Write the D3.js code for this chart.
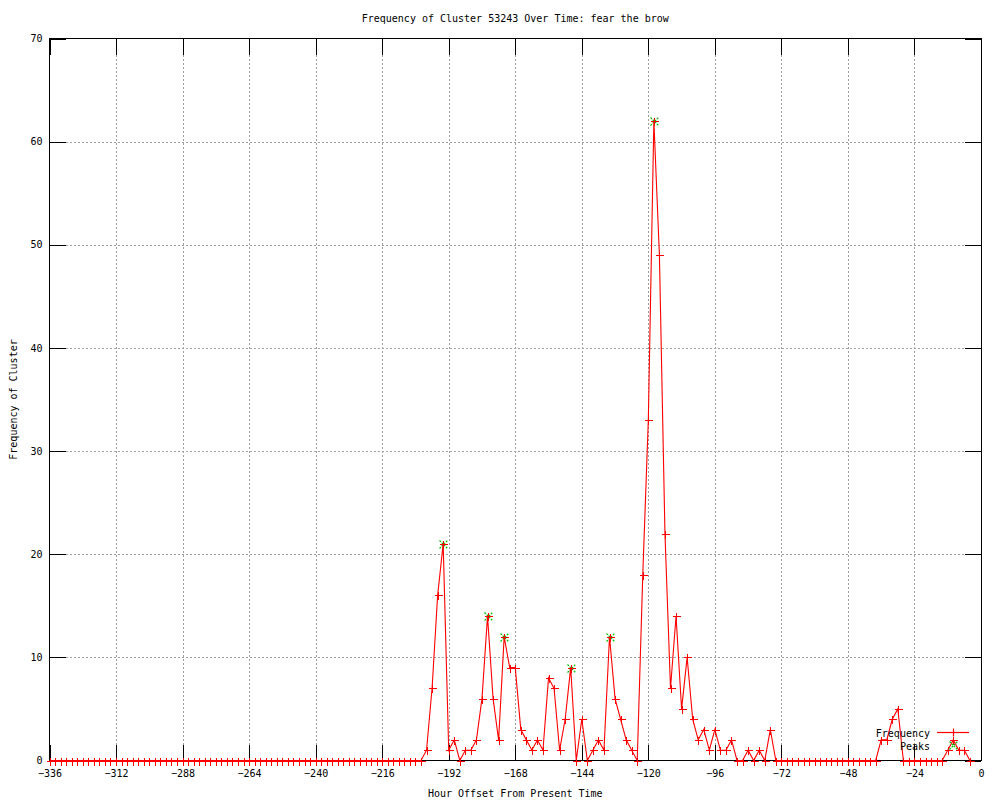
<!DOCTYPE html>
<html>
<head>
<meta charset="utf-8">
<script src="https://cdn.jsdelivr.net/npm/d3@7"></script>
<style>
  body { margin: 0; background: #fff; }
  svg { display: block; }
  text { font-family: "DejaVu Sans Mono", monospace; font-size: 10px; fill: #000; }
</style>
</head>
<body>
<svg id="chart" width="1000" height="800"></svg>
<script>
// hours from -336 to -4, one value every 2 hours
const hours = d3.range(-336, -2, 2);
const frequency = [
  0, 0, 0, 0, 0, 0, 0, 0, 0, 0, 0, 0,   // -336 .. -314
  0, 0, 0, 0, 0, 0, 0, 0, 0, 0, 0, 0,   // -312 .. -290
  0, 0, 0, 0, 0, 0, 0, 0, 0, 0, 0, 0,   // -288 .. -266
  0, 0, 0, 0, 0, 0, 0, 0, 0, 0, 0, 0,   // -264 .. -242
  0, 0, 0, 0, 0, 0, 0, 0, 0, 0, 0, 0,   // -240 .. -218
  0, 0, 0, 0, 0, 0, 0, 0, 1, 7, 16, 21, // -216 .. -194
  1, 2, 0, 1, 1, 2, 6, 14, 6, 2, 12, 9, // -192 .. -170
  9, 3, 2, 1, 2, 1, 8, 7, 1, 4, 9, 0,   // -168 .. -146
  4, 0, 1, 2, 1, 12, 6, 4, 2, 1, 0, 18, // -144 .. -122
  33, 62, 49, 22, 7, 14, 5, 10, 4, 2, 3, 1, // -120 .. -98
  3, 1, 1, 2, 0, 0, 1, 0, 1, 0, 3, 0,   // -96 .. -74
  0, 0, 0, 0, 0, 0, 0, 0, 0, 0, 0, 0,   // -72 .. -50
  0, 0, 0, 0, 0, 0, 2, 2, 4, 5, 0, 0,   // -48 .. -26
  0, 0, 0, 0, 0, 0, 1, 2, 1, 1, 0       // -24 .. -4
];
const peakHours = [-194, -178, -172, -148, -134, -118];
const peakValues = [21, 14, 12, 9, 12, 62];

const xTicks = [-336, -312, -288, -264, -240, -216, -192, -168, -144, -120, -96, -72, -48, -24, 0];
const yTicks = [0, 10, 20, 30, 40, 50, 60, 70];

const title = "Frequency of Cluster 53243 Over Time: fear the brow";
const xLabel = "Hour Offset From Present Time";
const yLabel = "Frequency of Cluster";

const svg = d3.select("#chart");
const plotLeft = 49.5, plotRight = 981, plotTop = 38.5, plotBottom = 760.5;

const x = d3.scaleLinear().domain([-336, 0]).range([plotLeft, plotRight]);
const y = d3.scaleLinear().domain([0, 70]).range([plotBottom, plotTop]);

// dotted grid
const grid = svg.append("g")
  .attr("stroke", "#a0a0a0")
  .attr("stroke-dasharray", "2,2")
  .attr("shape-rendering", "crispEdges");
grid.selectAll("line.gx")
  .data(xTicks.slice(1, -1))
  .join("line")
  .attr("class", "gx")
  .attr("x1", d => Math.round(x(d)) + 0.5).attr("x2", d => Math.round(x(d)) + 0.5)
  .attr("y1", plotTop).attr("y2", plotBottom);
grid.selectAll("line.gy")
  .data(yTicks.slice(1, -1))
  .join("line")
  .attr("class", "gy")
  .attr("y1", d => Math.round(y(d)) + 0.5).attr("y2", d => Math.round(y(d)) + 0.5)
  .attr("x1", plotLeft).attr("x2", plotRight);

// axes with inward ticks (mirrored on top and right)
function styleAxis(g) {
  g.attr("font-family", null).attr("font-size", null);
  g.select(".domain").remove();
  g.selectAll("line").attr("stroke", "#000").attr("shape-rendering", "crispEdges");
}
svg.append("g")
  .attr("transform", `translate(0,${plotBottom})`)
  .call(d3.axisBottom(x).tickValues(xTicks).tickSize(-16).tickPadding(9).tickFormat(d3.format("d")))
  .call(styleAxis);
svg.append("g")
  .attr("transform", `translate(0,${plotTop})`)
  .call(d3.axisTop(x).tickValues(xTicks).tickSize(-16).tickFormat(""))
  .call(styleAxis);
svg.append("g")
  .attr("transform", `translate(${plotLeft},0)`)
  .call(d3.axisLeft(y).tickValues(yTicks).tickSize(-16).tickPadding(7))
  .call(styleAxis);
svg.append("g")
  .attr("transform", `translate(${plotRight},0)`)
  .call(d3.axisRight(y).tickValues(yTicks).tickSize(-16).tickFormat(""))
  .call(styleAxis);

// frame
svg.append("rect")
  .attr("x", plotLeft).attr("y", plotTop)
  .attr("width", plotRight - plotLeft).attr("height", plotBottom - plotTop)
  .attr("fill", "none").attr("stroke", "#000")
  .attr("shape-rendering", "crispEdges");

const plus = "M-4,0H4M0,-4V4";
const cross = "M-4,-4L4,4M-4,4L4,-4";

// peaks (green crosses, under the red markers)
svg.append("g")
  .selectAll("path")
  .data(peakHours.map((h, i) => [h, peakValues[i]]))
  .join("path")
  .attr("transform", d => `translate(${Math.round(x(d[0])) + 0.5},${Math.round(y(d[1])) + 0.5})`)
  .attr("d", cross)
  .attr("stroke", "#00c000")
  .attr("stroke-width", 1.2)
  .attr("stroke-dasharray", "2,1");

// frequency line + markers
const pts = hours.map((h, i) => [h, frequency[i]]);
const line = d3.line().x(d => x(d[0])).y(d => y(d[1]));
svg.append("path")
  .datum(pts)
  .attr("d", line)
  .attr("fill", "none")
  .attr("stroke", "#ff0000")
  .attr("stroke-width", 1.1);

svg.append("g")
  .selectAll("path")
  .data(pts)
  .join("path")
  .attr("transform", d => `translate(${Math.round(x(d[0])) + 0.5},${Math.round(y(d[1])) + 0.5})`)
  .attr("d", plus)
  .attr("stroke", "#ff0000")
  .attr("stroke-width", 1.2)
  .attr("shape-rendering", "crispEdges");

// legend
const legend = svg.append("g");
legend.append("text").attr("x", 930).attr("y", 733).attr("dy", "0.35em")
  .attr("text-anchor", "end").text("Frequency");
legend.append("line").attr("x1", 937).attr("x2", 969).attr("y1", 732.5).attr("y2", 732.5)
  .attr("stroke", "#ff0000").attr("stroke-width", 1.2);
legend.append("path").attr("transform", "translate(953.5,732.5)").attr("d", plus)
  .attr("stroke", "#ff0000").attr("stroke-width", 1.2);
legend.append("text").attr("x", 930).attr("y", 746.5).attr("dy", "0.35em")
  .attr("text-anchor", "end").text("Peaks");
legend.append("path").attr("transform", "translate(953.5,745.5)").attr("d", cross)
  .attr("stroke", "#00c000").attr("stroke-width", 1.2).attr("stroke-dasharray", "2,1");

// titles
svg.append("text").attr("x", (plotLeft + plotRight) / 2).attr("y", 18).attr("dy", "0.35em")
  .attr("text-anchor", "middle").text(title);
svg.append("text").attr("x", (plotLeft + plotRight) / 2).attr("y", 793).attr("dy", "0.35em")
  .attr("text-anchor", "middle").text(xLabel);
svg.append("text")
  .attr("transform", `translate(13,${(plotTop + plotBottom) / 2}) rotate(-90)`)
  .attr("dy", "0.35em")
  .attr("text-anchor", "middle").text(yLabel);
</script>
</body>
</html>
